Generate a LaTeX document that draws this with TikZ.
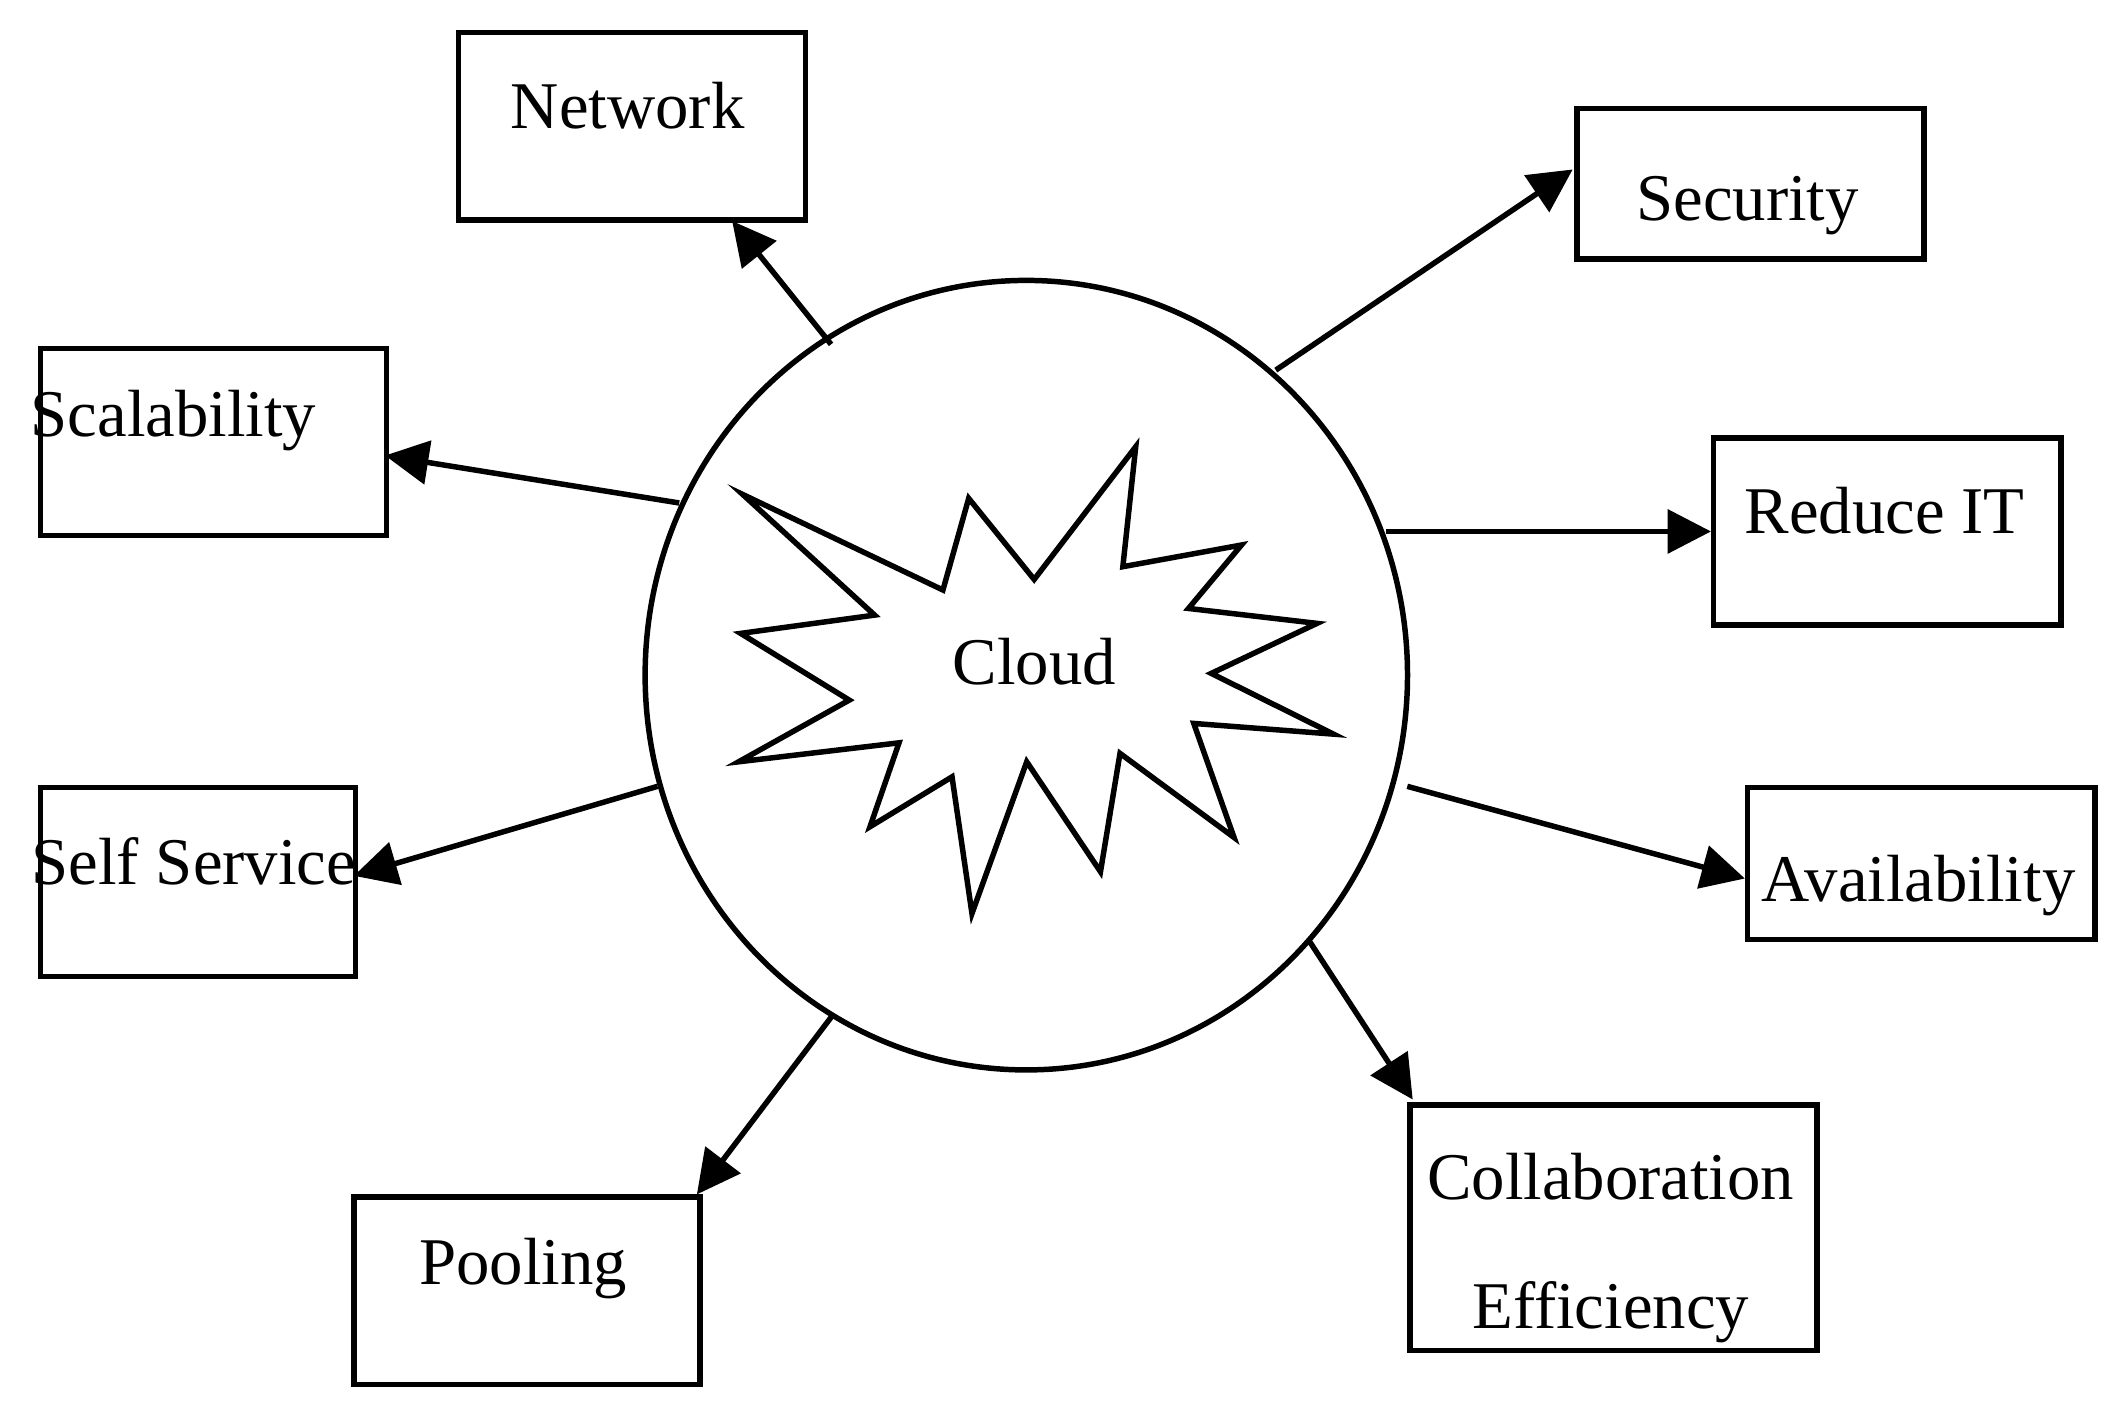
\documentclass[tikz,border=0pt]{standalone}
\usepackage{fontspec}
\setmainfont{Liberation Serif}
\usetikzlibrary{arrows.meta,shapes.geometric}
\begin{document}
\begin{tikzpicture}[x=0.01cm,y=-0.01cm,line width=1.15pt,
  box/.style={draw,inner sep=0pt,anchor=north west},
  lbl/.style={font=\fontsize{14}{16}\selectfont,inner sep=0pt},
  arr/.style={-{Triangle[length=0.32cm,width=0.32cm]}}]
\useasboundingbox (0,0) rectangle (1560,1034);
\node[draw,ellipse,minimum width=562\pgflinewidth*0+5.62cm,minimum height=5.82cm,inner sep=0pt] (c) at (757,498) {};
\draw (547.8,364.7)--(695.5,435.2)--(714.5,367.6)--(762.8,427.4)--(837.7,329.5)--(828.2,418)--(915.7,402)--(876.6,448.8)--(971.4,459.8)--(893.4,496.7)--(983.6,541.5)--(880.5,533.6)--(910.2,617.7)--(826.1,555.7)--(811.7,643)--(757.3,561.9)--(716.9,673.8)--(702.2,573)--(641.7,609.8)--(663.1,547.9)--(544.8,561.9)--(626.4,516.4)--(546.3,467.2)--(645.1,453.7)--cycle;
\node[lbl] (cl) at (763,488) {Cloud};
% boxes
\node[box,minimum width=2.56cm,minimum height=1.38cm] (net) at (336,22) {};
\node[box,minimum width=2.56cm,minimum height=1.11cm] (sec) at (1161,78) {};
\node[box,minimum width=2.55cm,minimum height=1.38cm] (sca) at (28,255) {};
\node[box,minimum width=2.56cm,minimum height=1.38cm] (red) at (1262,321) {};
\node[box,minimum width=2.32cm,minimum height=1.39cm] (ss) at (28,579) {};
\node[box,minimum width=2.56cm,minimum height=1.12cm] (av) at (1287,579) {};
\node[box,minimum width=2.55cm,minimum height=1.38cm] (pool) at (259,881) {};
\node[box,minimum width=3.00cm,minimum height=1.81cm] (col) at (1038,813) {};
\node[lbl] (tnet) at (463,78) {Network};
\node[lbl] (tsec) at (1289,152) {Security};
\node[lbl] (tsca) at (128,310) {Scalability};
\node[lbl] (tred) at (1390,377) {Reduce IT};
\node[lbl] (tss) at (143,635) {Self Service};
\node[lbl] (tav) at (1415,653) {Availability};
\node[lbl] (tpool) at (386,936) {Pooling};
\node[lbl] (tcol1) at (1188,868) {Collaboration};
\node[lbl] (tcol2) at (1188,968) {Efficiency};
% arrow coordinates
\coordinate (a1) at (613,254); \coordinate (b1) at (540,163);
\coordinate (a2) at (941,273); \coordinate (b2) at (1160,125);
\coordinate (a3) at (501,371); \coordinate (b3) at (284,336);
\coordinate (a4) at (1022,392); \coordinate (b4) at (1262,392);
\coordinate (a5) at (485,580); \coordinate (b5) at (261,646);
\coordinate (a6) at (1038,580); \coordinate (b6) at (1287,648);
\coordinate (a7) at (614,749); \coordinate (b7) at (514,881);
\coordinate (a8) at (965,693); \coordinate (b8) at (1042,811);
\foreach \i in {1,...,8} \draw[arr] (a\i) -- (b\i);
\end{tikzpicture}
\end{document}
